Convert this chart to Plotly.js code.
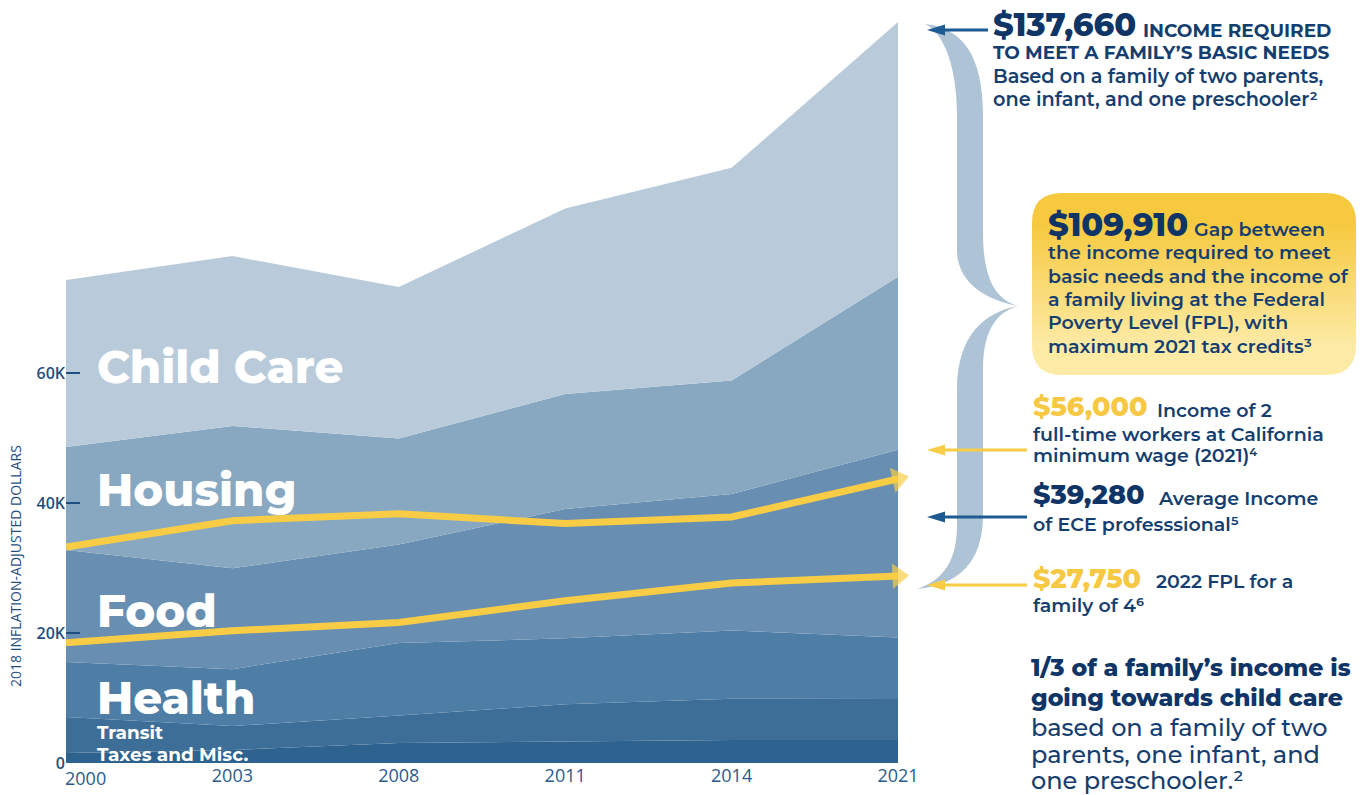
<!DOCTYPE html>
<html><head><meta charset="utf-8">
<script src="https://cdn.plot.ly/plotly-3.0.1.min.js"></script>
<style>html,body{margin:0;padding:0;background:#fff}#chart{width:1366px;height:795px}</style>
</head><body><div id="chart"></div>
<script>
// ---- data (2018 inflation-adjusted dollars) ----
const years = ['2000', '2003', '2008', '2011', '2014', '2021'];
const taxesMisc = [1540, 2000, 3080, 3310, 3540, 3540];
const transit   = [5540, 3690, 4240, 5710, 6340, 6310];
const health    = [8460, 8730, 11140, 10160, 10520, 9440];
const food      = [17230, 15530, 15140, 19900, 20980, 28890];
const housing   = [15850, 21900, 16310, 17690, 17470, 26620];
const childCare = [25690, 26150, 23320, 28540, 32720, 39200];
const minWageIncome = [33230, 37280, 38350, 36830, 37850, 43690];
const fplIncome     = [18510, 20350, 21620, 24950, 27690, 28770];
const yTickVals = [0, 20000, 40000, 60000];
const yTickText = ['0', '20K', '40K', '60K'];

// ---- styling ----
const F = "Montserrat, 'Open Sans', sans-serif";
const NAVY = '#153e70', NUMNAVY = '#0f3567', YELT = '#f6c843', YEL = '#f8cd45', AXC = '#1f4f82', ARB = '#1d5b92';
const L = 66, R = 898, T = 21, B = 763;
const X = px => (px - L) / (R - L);
const Y = py => (B - py) / (B - T);

function pxPath(s) {
  const tk = s.trim().split(/[\s,]+/);
  let out = [], isX = true;
  for (const t of tk) {
    if (/^[A-Za-z]$/.test(t)) { out.push(t); isX = true; }
    else { out.push(isX ? X(+t).toFixed(5) : Y(+t).toFixed(5)); isX = !isX; }
  }
  return out.join(' ');
}

const layers = [
  ['Taxes and Misc.', taxesMisc, '#2e628f'],
  ['Transit', transit, '#3d6e98'],
  ['Health', health, '#4e7da6'],
  ['Food', food, '#688eb1'],
  ['Housing', housing, '#88a7c0'],
  ['Child Care', childCare, '#b9cbdb']
];
const traces = layers.map(([name, vals, c]) => ({
  type: 'scatter', x: years, y: vals, name, mode: 'none', stackgroup: 'costs',
  fillcolor: c, line: {width: 0}, hoverinfo: 'x+y+name'
}));
[['2 min-wage workers', minWageIncome], ['FPL', fplIncome]].forEach(([name, vals]) => {
  traces.push({
    type: 'scatter', x: years, y: vals, name, mode: 'lines+markers', cliponaxis: false,
    line: {color: YEL, width: 7},
    marker: {symbol: 'triangle-up', angleref: 'previous', color: YEL,
             size: vals.map((v, i) => i === vals.length - 1 ? 22 : 0), line: {width: 0}}
  });
});

// ---- shapes ----
const shapes = [];
// brace
shapes.push({type: 'path', xref: 'paper', yref: 'paper', fillcolor: '#aec3d5', line: {width: 0}, layer: 'above',
  path: pxPath('M 925 24 C 962 28 983 55 983 115 L 983 232 C 983 283 998 300 1018 306 ' +
    'C 998 312 983 328 983 370 L 983 515 C 983 563 958 585 917 589 ' +
    'C 944 580 957 560 957 525 L 957 390 C 957 335 985 312 1018 306 ' +
    'C 985 300 957 282 957 250 L 957 115 C 957 70 945 33 925 24 Z')});
// yellow gradient box
const bx0 = 1032, bx1 = 1356, bt = 193, bb = 375, br = 30;
const cTop = [246, 201, 62], cBot = [252, 234, 165];
const mix = t => 'rgb(' + cTop.map((c, i) => Math.round(c + (cBot[i] - c) * t)).join(',') + ')';
shapes.push({type: 'path', xref: 'paper', yref: 'paper', fillcolor: mix(0), line: {width: 0},
  path: pxPath(`M ${bx0} ${bt + br + 1} L ${bx0} ${bt + br} Q ${bx0} ${bt} ${bx0 + br} ${bt} L ${bx1 - br} ${bt} Q ${bx1} ${bt} ${bx1} ${bt + br} L ${bx1} ${bt + br + 1} Z`)});
const nS = 30, sTop = bt + br, sBot = bb - br, sh = (sBot - sTop) / nS;
for (let i = 0; i < nS; i++) {
  const y0 = sTop + i * sh, y1 = y0 + sh + 0.9;
  shapes.push({type: 'rect', xref: 'paper', yref: 'paper', x0: X(bx0), x1: X(bx1), y0: Y(y1), y1: Y(y0),
    fillcolor: mix((i + 0.5) / nS), line: {width: 0}});
}
shapes.push({type: 'path', xref: 'paper', yref: 'paper', fillcolor: mix(1), line: {width: 0},
  path: pxPath(`M ${bx0} ${bb - br - 1} L ${bx1} ${bb - br - 1} L ${bx1} ${bb - br} Q ${bx1} ${bb} ${bx1 - br} ${bb} L ${bx0 + br} ${bb} Q ${bx0} ${bb} ${bx0} ${bb - br} Z`)});

// arrows (shaft + head)
function arrow(tipx, tailx, py, color) {
  const hl = 18, hh = 5.5;
  shapes.push({type: 'line', xref: 'paper', yref: 'paper', x0: X(tailx), x1: X(tipx + hl - 2), y0: Y(py), y1: Y(py),
    line: {color, width: 3}});
  shapes.push({type: 'path', xref: 'paper', yref: 'paper', fillcolor: color, line: {width: 0},
    path: pxPath(`M ${tipx} ${py} L ${tipx + hl} ${py - hh} L ${tipx + hl} ${py + hh} Z`)});
}
arrow(927, 988, 30, ARB);
arrow(927, 1027, 450, YEL);
arrow(927, 1027, 517, ARB);
arrow(927, 1027, 585, YEL);

// ---- annotations ----
const ann = [];
function txt(px, py, text, size, color, weight, extra) {
  ann.push(Object.assign({xref: 'paper', yref: 'paper', x: X(px), y: Y(py), text, showarrow: false,
    xanchor: 'left', yanchor: 'middle', align: 'left', borderpad: 0,
    font: {family: F, size, color, weight}}, extra || {}));
}

// chart labels
txt(96, 366, 'Child Care', 45, '#ffffff', 800);
txt(96, 489, 'Housing', 45, '#ffffff', 800);
txt(96, 610, 'Food', 45, '#ffffff', 800);
txt(96, 697, 'Health', 45, '#ffffff', 800);
txt(96, 732, 'Transit', 18.5, '#ffffff', 700);
txt(96, 754, 'Taxes and Misc.', 18.5, '#ffffff', 700);

// axis title
ann.push({xref: 'paper', yref: 'paper', x: X(15), y: Y(566), text: '2018 INFLATION-ADJUSTED DOLLARS',
  showarrow: false, textangle: -90, xanchor: 'center', yanchor: 'middle',
  font: {family: "'Open Sans', sans-serif", size: 14, color: AXC}});

// top block
txt(992, 24.5, '$137,660', 32, NUMNAVY, 800);
txt(1142, 30, 'INCOME REQUIRED', 18.5, NAVY, 700);
txt(992, 52, 'TO MEET A FAMILY’S BASIC NEEDS', 18.5, NAVY, 700);
txt(992, 76, 'Based on a family of two parents,', 19.3, NAVY, 600);
txt(992, 99.5, 'one infant, and one preschooler²', 19.3, NAVY, 600);

// yellow box
txt(1047, 224, '$109,910', 32, NUMNAVY, 800);
txt(1193, 229, 'Gap between', 19, NAVY, 600);
txt(1047, 252, 'the income required to meet', 19, NAVY, 600);
txt(1047, 276, 'basic needs and the income of', 19, NAVY, 600);
txt(1047, 299, 'a family living at the Federal', 19, NAVY, 600);
txt(1047, 322.5, 'Poverty Level (FPL), with', 19, NAVY, 600);
txt(1047, 346, 'maximum 2021 tax credits³', 19, NAVY, 600);

// income markers
txt(1032, 406.5, '$56,000', 27, YELT, 800);
txt(1156, 410, 'Income of 2', 19, NAVY, 600);
txt(1032, 434, 'full-time workers at California', 19, NAVY, 600);
txt(1032, 455, 'minimum wage (2021)⁴', 19, NAVY, 600);
txt(1032, 495, '$39,280', 27, NUMNAVY, 800);
txt(1157, 498.5, 'Average Income', 19, NAVY, 600);
txt(1032, 524, 'of ECE professsional⁵', 19, NAVY, 600);
txt(1032, 578, '$27,750', 27, YELT, 800);
txt(1155, 581.5, '2022 FPL for a', 19, NAVY, 600);
txt(1032, 605, 'family of 4⁶', 19, NAVY, 600);

// bottom block
txt(1030, 667, '1/3 of a family’s income is', 23.6, NUMNAVY, 800);
txt(1030, 697, 'going towards child care', 23.6, NUMNAVY, 800);
txt(1030, 727, 'based on a family of two', 24, NAVY, 500);
txt(1030, 754, 'parents, one infant, and', 24, NAVY, 500);
txt(1030, 780, 'one preschooler.²', 24, NAVY, 500);

// first year label sits inside the chart edge (left-aligned), the rest are centred ticks
const xTickText = years.map((y, i) => i === 0 ? '' : y);
ann.push({xref: 'paper', yref: 'paper', x: X(64), y: Y(778), text: years[0], showarrow: false,
  xanchor: 'left', yanchor: 'middle', borderpad: 0,
  font: {family: "'Open Sans', sans-serif", size: 18, color: '#2a5b8e'}});

const layout = {
  width: 1366, height: 795, margin: {l: L, r: 1366 - R, t: T, b: 795 - B, pad: 0},
  paper_bgcolor: '#ffffff', plot_bgcolor: '#ffffff', showlegend: false,
  font: {family: "'Open Sans', sans-serif"},
  xaxis: {type: 'category', range: [0, years.length - 1], tickvals: years, ticktext: xTickText,
    showgrid: false, zeroline: false, showline: false, ticks: '',
    tickfont: {family: "'Open Sans', sans-serif", size: 18, color: '#2a5b8e'}, fixedrange: true},
  yaxis: {range: [0, (B - T) / 6.5 * 1000], tickvals: yTickVals, ticktext: yTickText, ticks: 'inside',
    ticklen: 14, tickwidth: 1.5, tickcolor: AXC, showgrid: false, zeroline: false, showline: false,
    tickfont: {family: "'Open Sans', sans-serif", size: 16, color: AXC, weight: 600}, fixedrange: true},
  shapes, annotations: ann
};
Plotly.newPlot('chart', traces, layout, {displayModeBar: false, staticPlot: true});
</script></body></html>
